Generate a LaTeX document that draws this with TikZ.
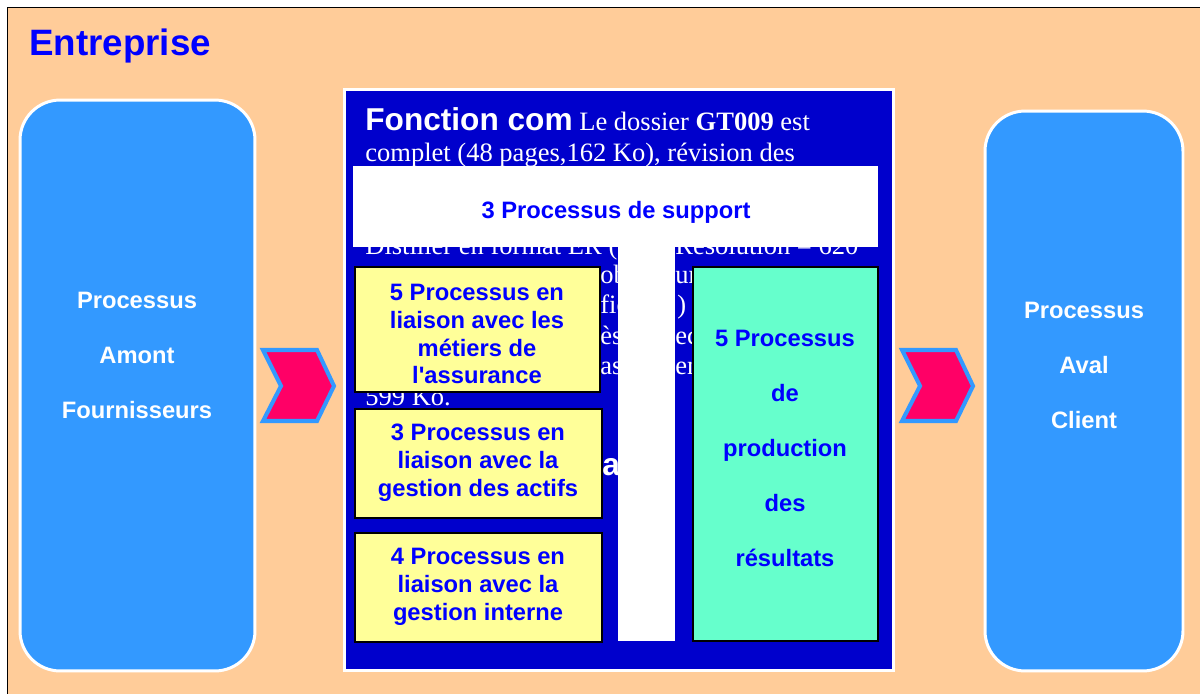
\documentclass[tikz,border=0pt]{standalone}
\usepackage{fontspec}
\setmainfont{Liberation Serif}
\setsansfont{Liberation Sans}
\definecolor{peach}{HTML}{FFCC99}
\definecolor{lblue}{HTML}{3399FF}
\definecolor{dblue}{HTML}{0000CC}
\definecolor{tblue}{HTML}{0000FF}
\definecolor{lyellow}{HTML}{FFFF99}
\definecolor{lgreen}{HTML}{66FFCC}
\definecolor{chevred}{HTML}{FF0066}
\begin{document}
\begin{tikzpicture}[x=0.02cm,y=-0.02cm,
  bt/.style={anchor=base west, inner sep=0, text=white, font=\fontsize{15.1}{17}\selectfont},
  ylw/.style={draw=black, fill=lyellow, line width=1.1pt},
  ylbl/.style={inner sep=0, align=center, text=tblue, font=\sffamily\bfseries\fontsize{13.5}{15.9}\selectfont},
  wide/.style={inner sep=0, align=center, font=\sffamily\bfseries\fontsize{13.5}{31.3}\selectfont},
  chev/.style={fill=chevred, draw=lblue, line width=2.3pt, line join=miter},
  procbox/.style={draw=white, fill=lblue, line width=1.7pt, rounded corners=0.8cm, inner sep=0}]
\useasboundingbox (0,0) rectangle (1200,693);
\clip (0,0) rectangle (1200,693);
\fill[white] (0,0) rectangle (1200,693);
\draw[fill=peach, line width=0.8pt] (7.5,7.5) rectangle (1215,710);
\node[anchor=base west, inner sep=0, text=tblue, font=\sffamily\bfseries\fontsize{20.9}{24}\selectfont] (title) at (29,55) {Entreprise};

% side process boxes
\node[procbox, minimum width=4.7cm, minimum height=11.42cm] (amont) at (137.5,385.5) {};
\node[wide, text=white] (amontT) at (137,355.5) {Processus\\Amont\\Fournisseurs};
\node[procbox, minimum width=3.96cm, minimum height=11.2cm] (aval) at (1084,391) {};
\node[wide, text=white] (avalT) at (1084,365.5) {Processus\\Aval\\Client};

% chevrons
\draw[chev] (263,350) -- (317,350) -- (334,386) -- (317,421) -- (263,421) -- (281,386) -- cycle;
\draw[chev] (902,350) -- (956,350) -- (973,386) -- (956,421) -- (902,421) -- (920,386) -- cycle;

% central box
\node[draw=white, fill=dblue, line width=1.7pt, inner sep=0, minimum width=11cm, minimum height=11.64cm] (central) at (619,380) {};
\node[bt] (l1) at (365,130) {{\sffamily\bfseries\fontsize{18}{20}\selectfont Fonction com} Le dossier \textbf{GT009} est};
\node[bt] (l2) at (365,161.5) {complet (48 pages,162 Ko), révision des};
\node[bt] (l5a) at (365,254) {Distiller en format ER (};
\node[bt] (l5b) at (675,254) {Résolution = 620};
\node[bt] (l6a) at (600,283) {ob};
\node[bt] (l6b) at (675,283) {ur};
\node[bt] (l7a) at (600,313.5) {fic};
\node[bt] (l7b) at (677,313.5) {)};
\node[bt] (l8a) at (600,344) {ès};
\node[bt] (l8b) at (675,344) {ec};
\node[bt] (l9a) at (600,374.5) {ass};
\node[bt] (l9b) at (675,374.5) {en};
\node[bt] (l10) at (365,405) {599 Ko.};
\node[bt, font=\sffamily\bfseries\fontsize{18}{20}\selectfont] (la) at (602,475) {a};

% white T
\fill[white] (353,166) rectangle (878,247);
\fill[white] (618,245) rectangle (675,641);
\node[ylbl] (support) at (616,212) {3 Processus de support};

% yellow boxes
\draw[ylw] (355,267) rectangle (600,392);
\node[ylbl] (metiers) at (477,334) {5 Processus en\\liaison avec les\\métiers de\\l\textquotesingle assurance};
\draw[ylw] (355,409) rectangle (602,518);
\node[ylbl] (actifs) at (478,463) {3 Processus en\\liaison avec la\\gestion des actifs};
\draw[ylw] (355,533) rectangle (602,642);
\node[ylbl] (interne) at (478,587) {4 Processus en\\liaison avec la\\gestion interne};

% green box
\draw[draw=black, fill=lgreen, line width=1.1pt] (693,267) rectangle (878,641);
\node[wide, text=tblue, font=\sffamily\bfseries\fontsize{13.5}{31.2}\selectfont] (prod) at (785,448.5) {5 Processus\\de\\production\\des\\résultats};
\end{tikzpicture}
\end{document}
